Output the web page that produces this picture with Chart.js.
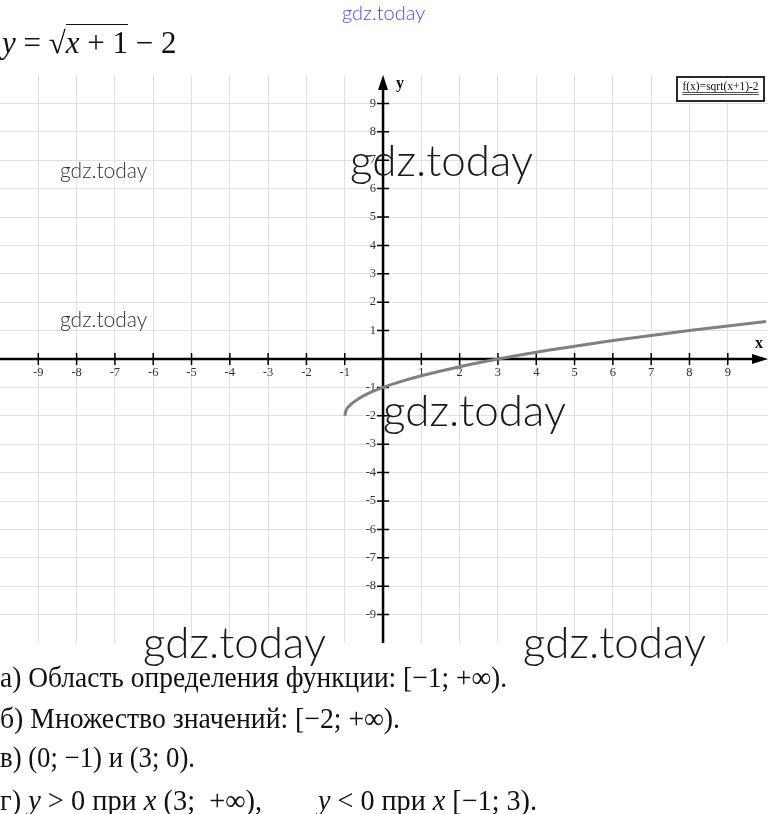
<!DOCTYPE html>
<html>
<head>
<meta charset="utf-8">
<script src="https://cdn.jsdelivr.net/npm/chart.js@4.4.1/dist/chart.umd.min.js"></script>
<style>
  html, body { margin: 0; padding: 0; background: #fff; }
  #page { position: relative; width: 768px; height: 814px; overflow: hidden; background: #fff; }
  #plot { position: absolute; left: 0; top: 0; }
  .txt { position: absolute; white-space: pre; font-family: "Liberation Serif", "Times New Roman", serif; color: #111; transform-origin: 0 0; }
  .title { left: 2px; top: 25px; font-size: 31px; line-height: 36px; }
  .rad { border-top: 1.6px solid #111; padding-top: 0; }
  .ans { font-size: 29px; line-height: 32px; }
  .wm { position: absolute; white-space: pre; font-family: "Lato", "Open Sans", sans-serif; font-weight: 300; line-height: 1; color: #1a1a1a; }
  i { font-style: italic; }
</style>
</head>
<body>
<div id="page">
  <canvas id="plot" width="768" height="814"></canvas>

  <div class="txt title"><i>y</i> = √<span class="rad"><i>x</i> + 1</span> − 2</div>

  <div class="txt ans" data-w="507" style="left:0;top:661px">а) Область определения функции: [−1; +∞).</div>
  <div class="txt ans" data-w="400" style="left:0;top:702px">б) Множество значений: [−2; +∞).</div>
  <div class="txt ans" data-w="195" style="left:0;top:741px">в) (0; −1) и (3; 0).</div>
  <div class="txt ans" data-w="262" style="left:0;top:784px">г) <i>y</i> &gt; 0 при <i>x</i> (3;  +∞),</div>
  <div class="txt ans" data-w="219" style="left:318px;top:784px"><i>y</i> &lt; 0 при <i>x</i> [−1; 3).</div>

  <div class="wm" style="left:342px;top:2px;font-size:20px;color:#4a4aff;">gdz.today</div>
  <div class="wm" style="left:60px;top:159px;font-size:21px;color:#333;">gdz.today</div>
  <div class="wm" style="left:60px;top:308px;font-size:21px;color:#333;">gdz.today</div>
  <div class="wm" style="left:350px;top:137px;font-size:44px;">gdz.today</div>
  <div class="wm" style="left:383px;top:387px;font-size:44px;">gdz.today</div>
  <div class="wm" style="left:143px;top:619px;font-size:44px;">gdz.today</div>
  <div class="wm" style="left:523px;top:619px;font-size:44px;">gdz.today</div>
</div>

<script>
// y = sqrt(x + 1) - 2
const curveX = [-1, -0.97, -0.9, -0.75, -0.5, -0.25, 0, 0.5, 1, 2, 3, 4, 5, 6, 7, 8, 9, 10];
const curveY = [-2, -1.83, -1.68, -1.5, -1.29, -1.13, -1, -0.78, -0.59, -0.27, 0, 0.24, 0.45, 0.65, 0.83, 1.0, 1.16, 1.32];

// grid lines and labelled ticks
const gridX = [-9, -8, -7, -6, -5, -4, -3, -2, -1, 0, 1, 2, 3, 4, 5, 6, 7, 8, 9];
const gridY = [-9, -8, -7, -6, -5, -4, -3, -2, -1, 0, 1, 2, 3, 4, 5, 6, 7, 8, 9];
const xTickValues = [-9, -8, -7, -6, -5, -4, -3, -2, -1, 1, 2, 3, 4, 5, 6, 7, 8, 9];
const xTickLabels = ['-9', '-8', '-7', '-6', '-5', '-4', '-3', '-2', '-1', '1', '2', '3', '4', '5', '6', '7', '8', '9'];
const yTickValues = [9, 8, 7, 6, 5, 4, 3, 2, 1, -1, -2, -3, -4, -5, -6, -7, -8, -9];
const yTickLabels = ['9', '8', '7', '6', '5', '4', '3', '2', '1', '-1', '-2', '-3', '-4', '-5', '-6', '-7', '-8', '-9'];

const seriesLabel = 'f(x)=sqrt(x+1)-2';

// squeeze the answer lines to their set widths
document.querySelectorAll('.ans[data-w]').forEach(el => {
  const w = el.getBoundingClientRect().width;
  const target = +el.dataset.w;
  if (w > 0) el.style.transform = 'scaleX(' + (target / w) + ')';
});

// axes drawn through the origin, with arrows, tick marks and labels
const originAxes = {
  id: 'originAxes',
  beforeDatasetsDraw(chart) {
    const { ctx, chartArea, scales: { x, y } } = chart;
    const ox = x.getPixelForValue(0);
    const oy = y.getPixelForValue(0);
    ctx.save();
    ctx.strokeStyle = '#000';
    ctx.fillStyle = '#000';
    ctx.lineWidth = 2.5;

    // x axis
    ctx.beginPath();
    ctx.moveTo(chartArea.left, oy);
    ctx.lineTo(chartArea.right - 8, oy);
    ctx.stroke();
    ctx.beginPath();
    ctx.moveTo(chartArea.right, oy);
    ctx.lineTo(chartArea.right - 16, oy - 5);
    ctx.lineTo(chartArea.right - 16, oy + 5);
    ctx.closePath();
    ctx.fill();

    // y axis
    ctx.beginPath();
    ctx.moveTo(ox, chartArea.bottom);
    ctx.lineTo(ox, chartArea.top + 8);
    ctx.stroke();
    ctx.beginPath();
    ctx.moveTo(ox, chartArea.top);
    ctx.lineTo(ox - 5, chartArea.top + 15);
    ctx.lineTo(ox + 5, chartArea.top + 15);
    ctx.closePath();
    ctx.fill();

    // tick marks
    ctx.lineWidth = 1.5;
    ctx.beginPath();
    xTickValues.forEach(v => {
      const px = x.getPixelForValue(v);
      ctx.moveTo(px, oy - 6);
      ctx.lineTo(px, oy + 6);
    });
    yTickValues.forEach(v => {
      const py = y.getPixelForValue(v);
      ctx.moveTo(ox - 6, py);
      ctx.lineTo(ox + 6, py);
    });
    ctx.stroke();

    // tick labels
    ctx.font = '12.5px "Liberation Serif", serif';
    ctx.fillStyle = '#333';
    ctx.textAlign = 'center';
    ctx.textBaseline = 'middle';
    xTickValues.forEach((v, i) => {
      ctx.fillText(xTickLabels[i], x.getPixelForValue(v), oy + 14);
    });
    ctx.textAlign = 'right';
    yTickValues.forEach((v, i) => {
      ctx.fillText(yTickLabels[i], ox - 7, y.getPixelForValue(v));
    });

    // axis names
    ctx.fillStyle = '#111';
    ctx.font = 'bold 16px "Liberation Serif", serif';
    ctx.textAlign = 'center';
    ctx.fillText('x', chartArea.right - 9, oy - 15);
    ctx.fillText('y', ox + 17, chartArea.top + 9);
    ctx.restore();
  },
  afterDraw(chart) {
    // boxed function label in the top right corner
    const { ctx, chartArea } = chart;
    const label = chart.data.datasets[0].label;
    const bx = chartArea.right - 91, by = chartArea.top + 2, bw = 87, bh = 24;
    ctx.save();
    ctx.fillStyle = '#fff';
    ctx.fillRect(bx, by, bw, bh);
    ctx.strokeStyle = '#111';
    ctx.lineWidth = 1.8;
    ctx.strokeRect(bx, by, bw, bh);
    ctx.font = '11.5px "Liberation Serif", serif';
    ctx.fillStyle = '#111';
    ctx.textAlign = 'center';
    ctx.textBaseline = 'alphabetic';
    const cx = bx + bw / 2;
    ctx.fillText(label, cx, by + 13);
    const tw = ctx.measureText(label).width;
    ctx.strokeStyle = '#555';
    ctx.lineWidth = 1;
    ctx.beginPath();
    ctx.moveTo(cx - tw / 2, by + 15.5);
    ctx.lineTo(cx + tw / 2, by + 15.5);
    ctx.moveTo(cx - tw / 2, by + 17.5);
    ctx.lineTo(cx + tw / 2, by + 17.5);
    ctx.stroke();
    ctx.restore();
  }
};

new Chart(document.getElementById('plot'), {
  type: 'scatter',
  data: {
    datasets: [{
      label: seriesLabel,
      data: curveX.map((v, i) => ({ x: v, y: curveY[i] })),
      showLine: true,
      borderColor: '#808080',
      borderWidth: 3,
      pointRadius: 0,
      cubicInterpolationMode: 'monotone',
      fill: false
    }]
  },
  options: {
    responsive: false,
    animation: false,
    layout: { padding: { left: 0, right: 0, top: 75, bottom: 171 } },
    plugins: { legend: { display: false }, tooltip: { enabled: false } },
    scales: {
      x: {
        type: 'linear', min: -10, max: 10.05,
        afterBuildTicks: s => { s.ticks = gridX.map(v => ({ value: v })); },
        ticks: { display: false },
        grid: { color: '#e0e0e0', lineWidth: 1, drawTicks: false },
        border: { display: false }
      },
      y: {
        type: 'linear', min: -10, max: 10,
        afterBuildTicks: s => { s.ticks = gridY.map(v => ({ value: v })); },
        ticks: { display: false },
        grid: { color: '#e0e0e0', lineWidth: 1, drawTicks: false },
        border: { display: false }
      }
    }
  },
  plugins: [originAxes]
});
</script>
</body>
</html>
